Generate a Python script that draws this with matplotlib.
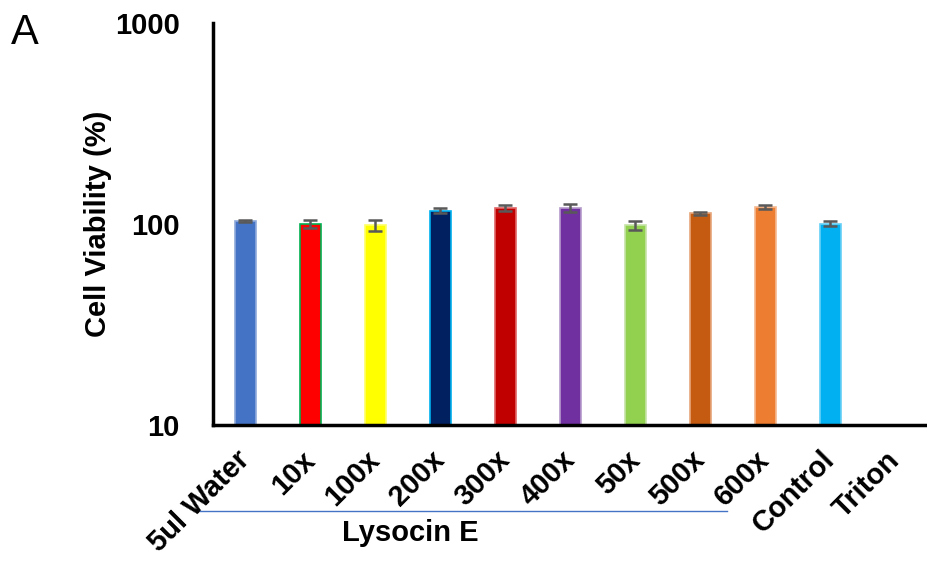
import matplotlib.pyplot as plt
import numpy as np

plt.rcParams['font.family'] = ['Liberation Sans', 'DejaVu Sans']

groups = ['5ul Water', '10x', '100x', '200x', '300x', '400x', '50x', '500x', '600x', 'Control', 'Triton']
viability = [103.5, 100.0, 98.8, 116.5, 119.7, 119.7, 98.8, 113.0, 121.6, 100.2, 2.0]
errors = [1.0, 5.0, 6.0, 3.0, 4.0, 5.5, 5.0, 2.0, 3.0, 3.0, 0.0]
fill_colors = ['#4472C4', '#FF0000', '#FFFF00', '#002060', '#C00000', '#7030A0',
               '#92D050', '#C55A11', '#ED7D31', '#00B0F0', '#002060']
edge_colors = ['#8FAADC', '#00B050', '#FFFF66', '#00B0F0', '#E06666', '#B59ACB',
               '#C5E3A6', '#E8A67C', '#F5B98F', '#66D0F6', '#002060']

fig = plt.figure(figsize=(9.28, 5.61), dpi=100)
ax = fig.add_axes([0.2295, 0.2424, 0.7705, 0.7166])

x = np.arange(len(groups))
ax.bar(x, viability, width=0.31, color=fill_colors, edgecolor=edge_colors, linewidth=1.2, zorder=2)
ax.errorbar(x[:-1], viability[:-1], yerr=errors[:-1], fmt='none', ecolor='#595959',
            elinewidth=1.8, capsize=5, capthick=1.8, zorder=3)

ax.set_yscale('log')
ax.set_ylim(10, 1000)
ax.set_xlim(-0.5, len(groups) - 0.5)
ax.set_yticks([10, 100, 1000])
ax.set_yticklabels(['10', '100', '1000'], fontsize=21, fontweight='bold')
ax.yaxis.set_minor_locator(plt.NullLocator())
ax.tick_params(axis='y', length=0, pad=24)
ax.tick_params(axis='x', length=0, pad=22)

ax.set_xticks(x)
ax.set_xticklabels(groups, rotation=45, ha='right', va='center', rotation_mode='anchor',
                   fontsize=21, fontweight='bold')

for side in ['top', 'right']:
    ax.spines[side].set_visible(False)
ax.spines['left'].set_linewidth(2.5)
ax.spines['bottom'].set_linewidth(2.5)

ax.set_ylabel('Cell Viability (%)', fontsize=21, fontweight='bold', labelpad=2)

# bracket line and group label for the Lysocin E dilutions
fig.add_artist(plt.Line2D([200 / 928, 727 / 928], [1 - 511 / 561, 1 - 511 / 561],
                          color='#4472C4', linewidth=1))
fig.text(410 / 928, 1 - 533 / 561, 'Lysocin E', fontsize=21, fontweight='bold',
         ha='center', va='center')

fig.text(25 / 928, 1 - 33 / 561, 'A', fontsize=30, ha='center', va='center')

fig.savefig('out.png', dpi=100)
